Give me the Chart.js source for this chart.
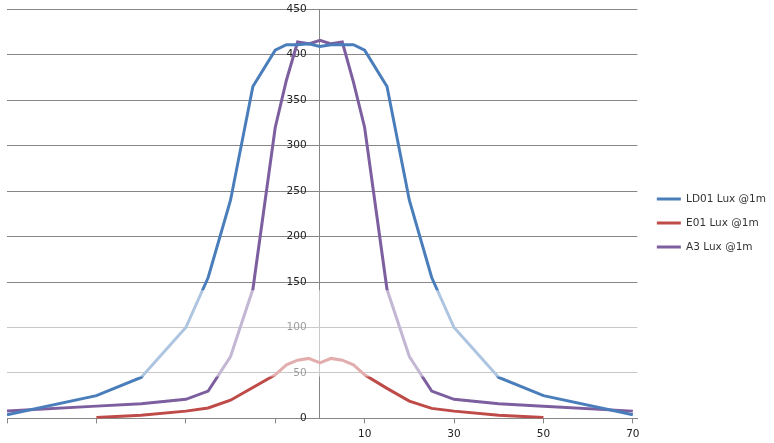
<!DOCTYPE html>
<html>
<head>
<meta charset="utf-8">
<script src="https://cdn.jsdelivr.net/npm/chart.js@4.4.1/dist/chart.umd.min.js"></script>
<style>
    html, body { margin: 0; padding: 0; background: #fff; }
    #wrap { width: 774px; height: 443px; }
</style>
</head>
<body>
<div id="wrap"><canvas id="luxChart"></canvas></div>
<script>
// Lux readings at 1m, by distance from the centre line
const distances = [-70, -50, -40, -30, -25, -20, -15, -10, -7.5, -5, -2.5, 0, 2.5, 5, 7.5, 10, 15, 20, 25, 30, 40, 50, 70];
const ld01Lux = [4, 25, 45, 100, 155, 240, 365, 405, 411, 411, 412, 409, 411, 411, 411, 405, 365, 240, 155, 100, 45, 25, 4];
const e01Lux = [null, 1, 3.5, 8, 11.5, 20, 34, 48, 59, 64, 66, 61, 66, 64, 59, 48, 33, 19, 11, 8, 3.5, 1, null];
const a3Lux = [8, 13.5, 16, 21, 30, 68, 142, 320, 372, 414, 412, 416, 412, 414, 370, 320, 142, 68, 30, 21, 16, 13.5, 8];

const seriesNames = ['LD01 Lux @1m', 'E01 Lux @1m', 'A3 Lux @1m'];
const xTicks = [-70, -50, -30, -10, 10, 30, 50, 70];
const yTicks = [0, 50, 100, 150, 200, 250, 300, 350, 400, 450];

const gridColor = '#868686';
const font = {family: 'DejaVu Sans', size: 10.5};

function toPoints(values) {
    return distances.map((d, i) => ({x: d, y: values[i]}));
}

// the source picture has a faded band across it (50..150 lux)
const fadeBand = {
    id: 'fadeBand',
    afterDraw(chart) {
        const y = chart.scales.y;
        const top = y.getPixelForValue(141);
        const bottom = y.getPixelForValue(46);
        const ctx = chart.ctx;
        ctx.save();
        ctx.fillStyle = 'rgba(255, 255, 255, 0.55)';
        ctx.fillRect(0, top, chart.chartArea.right + 2, bottom - top);
        ctx.restore();
    }
};

// leave a wider gap between the plot and the legend
const legendNudge = {
    id: 'legendNudge',
    afterLayout(chart) {
        chart.legend.left += 6;
        chart.legend.right += 6;
    }
};

function makeDataset(label, values, color) {
    return {
        label: label,
        data: toPoints(values),
        borderColor: color,
        backgroundColor: color,
        borderWidth: 3,
        pointRadius: 0,
        tension: 0,
        fill: false
    };
}

new Chart(document.getElementById('luxChart'), {
    type: 'line',
    data: {
        datasets: [
            makeDataset(seriesNames[0], ld01Lux, '#4a7ebb'),
            makeDataset(seriesNames[1], e01Lux, '#be4b48'),
            makeDataset(seriesNames[2], a3Lux, '#7d5fa0')
        ]
    },
    options: {
        responsive: true,
        maintainAspectRatio: false,
        animation: false,
        layout: {padding: {left: 7, top: 0, right: 4, bottom: -3}},
        plugins: {
            legend: {
                position: 'right',
                labels: {
                    usePointStyle: true,
                    pointStyle: 'line',
                    pointStyleWidth: 24,
                    boxHeight: 3,
                    padding: 13.5,
                    color: '#333',
                    font: font
                }
            },
            tooltip: {enabled: false}
        },
        scales: {
            x: {
                type: 'linear',
                min: -70,
                max: 71,
                afterBuildTicks: (scale) => { scale.ticks = xTicks.map(v => ({value: v})); },
                grid: {drawOnChartArea: false, drawTicks: true, tickLength: 5, color: gridColor},
                border: {display: true, color: gridColor},
                ticks: {
                    padding: 5,
                    color: '#222',
                    font: font,
                    maxRotation: 0,
                    autoSkip: false,
                    callback: (value) => value > 0 ? value : ''
                }
            },
            y: {
                position: {x: 0},
                min: 0,
                max: 450,
                afterBuildTicks: (scale) => { scale.ticks = yTicks.map(v => ({value: v})); },
                grid: {color: gridColor, drawTicks: false},
                border: {display: true, color: gridColor},
                ticks: {
                    color: '#222',
                    font: font,
                    // labels sit just left of the centre axis
                    callback: (value) => value + '\u2007\u2007'
                }
            }
        }
    },
    plugins: [fadeBand, legendNudge]
});
</script>
</body>
</html>
